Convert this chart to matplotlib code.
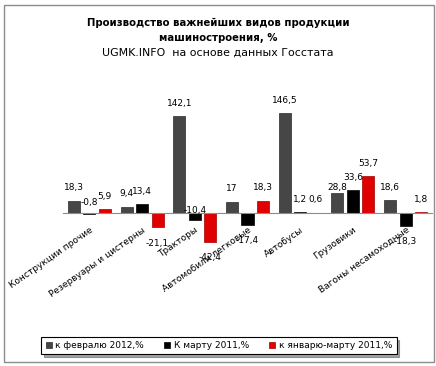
import numpy as np
import matplotlib
matplotlib.use("Agg")
import matplotlib.pyplot as plt
from matplotlib.patches import Rectangle

categories = ["Конструкции прочие", "Резервуары и цистерны", "Тракторы",
              "Автомобили легковые", "Автобусы", "Грузовики", "Вагоны несамоходные"]
feb_2012 = [18.3, 9.4, 142.1, 17, 146.5, 28.8, 18.6]
mar_2011 = [-0.8, 13.4, -10.4, -17.4, 1.2, 33.6, -18.3]
janmar_2011 = [5.9, -21.1, -42.4, 18.3, 0.6, 53.7, 1.8]
series_names = ["к февралю 2012,%", "К марту 2011,%", "к январю-марту 2011,%"]

colors = ["#464646", "#000000", "#e00000"]
edges = ["#2a2a2a", "#000000", "#a00000"]


def fmt(v):
    s = ("%.1f" % v).rstrip("0").rstrip(".")
    return s.replace(".", ",")


fig = plt.figure(figsize=(4.36, 3.66), dpi=100)
fig.patch.set_facecolor("white")
fig.patches.append(Rectangle((4 / 436, 1 - 362 / 366), 430 / 436, 357 / 366,
                             transform=fig.transFigure, fill=False,
                             edgecolor="#8c8c8c", linewidth=1.0))

ax = fig.add_axes([63 / 436, (366 - 254) / 366, 369 / 436, 150 / 366])
ax.set_xlim(-0.5, 6.5)
ax.set_ylim(-60, 160)

x = np.arange(len(categories))
step = 0.294
width = 0.228
all_series = [feb_2012, mar_2011, janmar_2011]
bars = []
for i, vals in enumerate(all_series):
    b = ax.bar(x + (i - 1) * step, vals, width, color=colors[i],
               edgecolor=edges[i], linewidth=0.5, label=series_names[i], zorder=3)
    bars.append(b)
    for xi, v in zip(x, vals):
        if v >= 0:
            dy = 6
            va = "bottom"
        else:
            dy = -8
            va = "top"
        # a few labels were nudged by hand in the original
        if i == 1 and xi == 0:
            dy, va = 5, "bottom"
        if i == 1 and xi == 2:
            dy, va = 4, "bottom"
        if i == 0 and xi == 5:
            dy = 1
        ax.annotate(fmt(v), (xi + (i - 1) * step, v), xytext=(0, dy),
                    textcoords="offset points", ha="center", va=va,
                    fontsize=6.5, clip_on=False, zorder=5)

for s in ["top", "right", "left"]:
    ax.spines[s].set_visible(False)
ax.spines["bottom"].set_position(("data", 0))
ax.spines["bottom"].set_color("#8c8c8c")
ax.spines["bottom"].set_linewidth(0.8)
ax.spines["bottom"].set_zorder(4)
ax.set_yticks([])
ax.set_xticks(x)
ax.set_xticklabels(categories, rotation=35, ha="right", va="top",
                   rotation_mode="anchor", fontsize=6.5)
ax.tick_params(axis="x", length=0, pad=9)
ax.patch.set_visible(False)

fig.text(0.5, 1 - 23 / 366, "Производство важнейших видов продукции",
         ha="center", va="center", fontsize=7.3, fontweight="bold")
fig.text(0.5, 1 - 38 / 366, "машиностроения, %",
         ha="center", va="center", fontsize=7.3, fontweight="bold")
fig.text(0.5, 1 - 53 / 366, "UGMK.INFO  на основе данных Госстата",
         ha="center", va="center", fontsize=7.9)

leg = fig.legend(handles=bars, labels=series_names, loc="center",
                 bbox_to_anchor=(219 / 436, 1 - 345.5 / 366), ncol=3,
                 fontsize=6.5, frameon=True, fancybox=False, shadow=True,
                 handlelength=0.7, handleheight=0.7, handletextpad=0.4,
                 columnspacing=2.2, borderpad=0.45)
leg.get_frame().set_edgecolor("#000000")
leg.get_frame().set_linewidth(0.8)

fig.savefig("out.png", dpi=100)
